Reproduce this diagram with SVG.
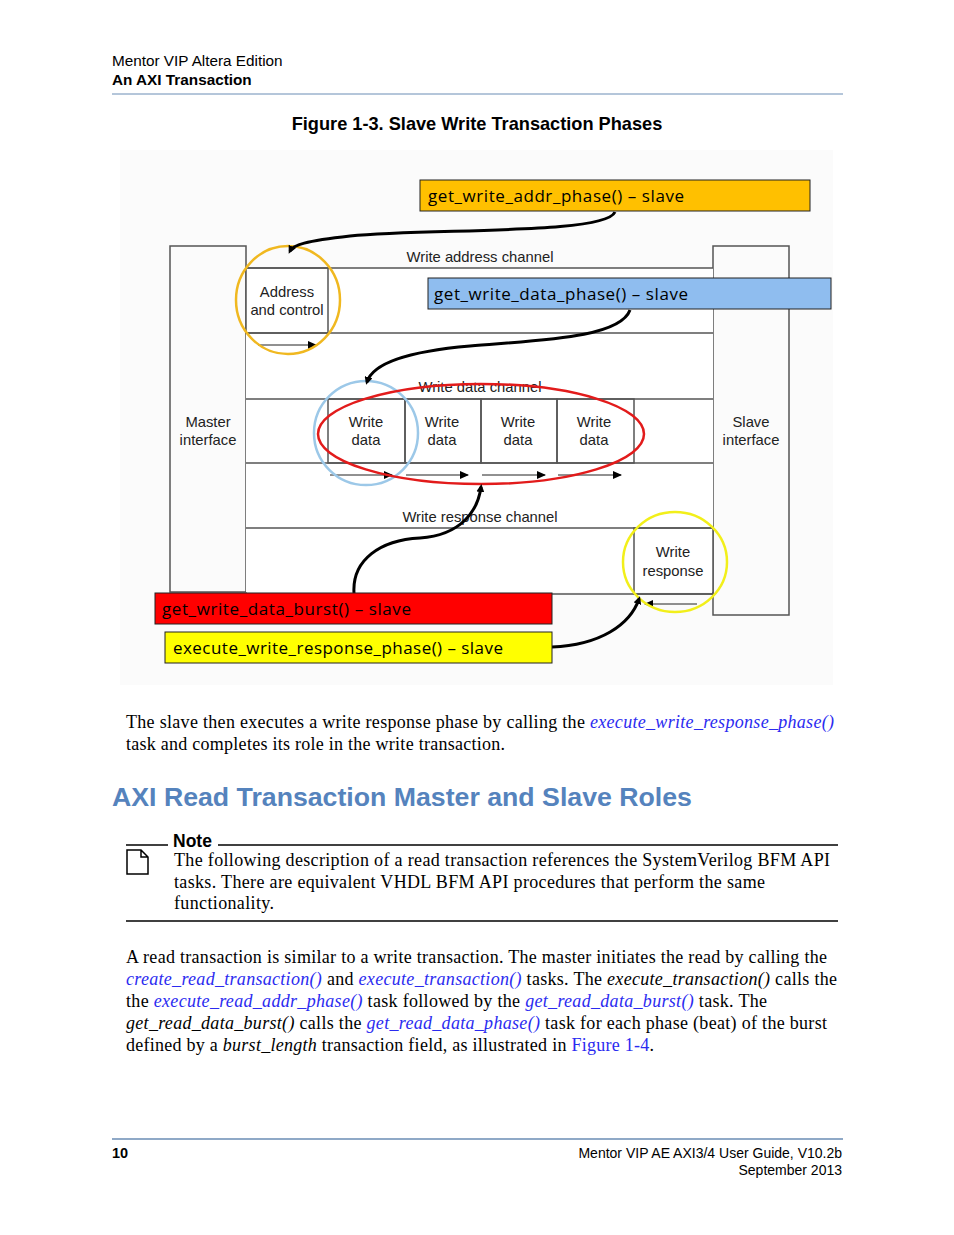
<svg xmlns="http://www.w3.org/2000/svg" width="954" height="1235" viewBox="0 0 954 1235">
<style>
.s{font-family:"Liberation Sans",Arial,sans-serif;fill:#000}
.d{font-family:"Liberation Sans",Arial,sans-serif;font-size:14.8px;fill:#222;text-anchor:middle}
.lab{font-family:"Open Sans","Liberation Sans",sans-serif;font-size:17px;fill:#000}
.r{font-family:"Liberation Serif","Times New Roman",serif;font-size:18px;fill:#000}
.l{fill:#2b2bf0;font-style:italic}
.ln{stroke:#555;stroke-width:1.5;fill:none}
.cv{stroke:#000;stroke-width:3;fill:none;marker-end:url(#ah)}
.sa{stroke:#222;stroke-width:1;fill:none;marker-end:url(#sa)}
</style>
<defs>
<marker id="ah" markerWidth="8" markerHeight="8" refX="5" refY="4" orient="auto" markerUnits="userSpaceOnUse"><path d="M0,0 L8,4 L0,8 z" fill="#000"/></marker>
<marker id="sa" markerWidth="9" markerHeight="8" refX="8" refY="4" orient="auto" markerUnits="userSpaceOnUse"><path d="M0,0 L9,4 L0,8 z" fill="#000"/></marker>
</defs>
<rect width="954" height="1235" fill="#fff"/>
<text class="s" x="112" y="66" font-size="15.3">Mentor VIP Altera Edition</text>
<text class="s" x="112" y="85" font-size="15.3" font-weight="bold">An AXI Transaction</text>
<line x1="112" y1="94" x2="843" y2="94" stroke="#6a8db5" stroke-width="1"/>
<text class="s" x="477" y="130" font-size="18.2" font-weight="bold" text-anchor="middle">Figure 1-3. Slave Write Transaction Phases</text>
<rect x="120" y="150" width="713" height="535" fill="#fbfbfb"/>
<g id="master"><rect x="170" y="246" width="76" height="346" class="ln" fill="#fff"/><text class="d" x="208" y="427">Master</text><text class="d" x="208" y="445">interface</text></g>
<g id="slave"><rect x="713" y="246" width="76" height="369" class="ln" fill="#fff"/><text class="d" x="751" y="427">Slave</text><text class="d" x="751" y="445">interface</text></g>
<g id="channels">
<rect x="246" y="268" width="467" height="324" fill="#fff" stroke="none"/>
<line x1="246" y1="268" x2="713" y2="268" class="ln"/>
<line x1="246" y1="333" x2="713" y2="333" class="ln"/>
<line x1="246" y1="399" x2="713" y2="399" class="ln"/>
<line x1="246" y1="463" x2="713" y2="463" class="ln"/>
<line x1="246" y1="528" x2="713" y2="528" class="ln"/>
<line x1="246" y1="594" x2="713" y2="594" class="ln"/>
<text class="d" x="480" y="262">Write address channel</text>
<text class="d" x="480" y="392">Write data channel</text>
<text class="d" x="480" y="522">Write response channel</text>
</g>
<g id="addr"><rect x="246" y="268" width="82" height="65" class="ln"/><text class="d" x="287" y="297">Address</text><text class="d" x="287" y="315">and control</text><line x1="258" y1="345" x2="316" y2="345" class="sa"/></g>
<g id="wdata">
<rect x="328" y="399" width="77" height="64" class="ln"/><rect x="405" y="399" width="76" height="64" class="ln"/><rect x="481" y="399" width="76" height="64" class="ln"/><rect x="557" y="399" width="77" height="64" class="ln"/>
<text class="d" x="366" y="427">Write</text><text class="d" x="366" y="445">data</text>
<text class="d" x="442" y="427">Write</text><text class="d" x="442" y="445">data</text>
<text class="d" x="518" y="427">Write</text><text class="d" x="518" y="445">data</text>
<text class="d" x="594" y="427">Write</text><text class="d" x="594" y="445">data</text>
<line x1="330" y1="475" x2="392" y2="475" class="sa"/><line x1="406" y1="475" x2="468" y2="475" class="sa"/><line x1="482" y1="475" x2="545" y2="475" class="sa"/><line x1="558" y1="475" x2="621" y2="475" class="sa"/>
</g>
<g id="wresp"><rect x="634" y="528" width="79" height="66" class="ln"/><text class="d" x="673" y="557">Write</text><text class="d" x="673" y="576">response</text><line x1="697" y1="604" x2="645" y2="604" class="sa"/></g>
<g id="highlights" fill="none" stroke-width="2.5">
<ellipse cx="288" cy="300" rx="52" ry="54" stroke="#f0b820"/>
<ellipse cx="366" cy="433" rx="52" ry="52" stroke="#9cc8e8"/>
<ellipse cx="481" cy="434" rx="163" ry="50" stroke="#e21b1b"/>
<ellipse cx="675" cy="562" rx="52" ry="50" stroke="#f2ef1a"/>
</g>
<g id="connectors">
<path class="cv" d="M615,212 C605,235 430,228 350,236 C305,241 293,245 290,251"/>
<path class="cv" d="M630,310 C620,338 540,340 470,346 C400,352 372,366 367,382"/>
<path class="cv" d="M354,593 C352,560 380,540 420,538 C462,535 478,510 481,487"/>
<path class="cv" d="M552,647 C600,645 630,625 639,599"/>
</g>
<g id="lbl-addr"><rect x="420" y="180" width="390" height="31" fill="#ffc000" stroke="#222"/><text class="lab" x="428" y="202" textLength="256">get_write_addr_phase() – slave</text></g>
<g id="lbl-data"><rect x="428" y="278" width="403" height="31" fill="#8fbdef" stroke="#222"/><text class="lab" x="434" y="300" textLength="254">get_write_data_phase() – slave</text></g>
<g id="lbl-burst"><rect x="155" y="593" width="397" height="31" fill="#ff0000" stroke="#222"/><text class="lab" x="162" y="615" textLength="249">get_write_data_burst() – slave</text></g>
<g id="lbl-resp"><rect x="165" y="632" width="387" height="31" fill="#ffff00" stroke="#222"/><text class="lab" x="173" y="654" textLength="330">execute_write_response_phase() – slave</text></g>
<text class="r" x="126" y="728" textLength="708">The slave then executes a write response phase by calling the <tspan class="l">execute_write_response_phase()</tspan></text>
<text class="r" x="126" y="750" textLength="379">task and completes its role in the write transaction.</text>
<text x="112" y="806" font-family="Liberation Sans,Arial,sans-serif" font-size="26.7" font-weight="bold" fill="#5583bd">AXI Read Transaction Master and Slave Roles</text>
<line x1="126" y1="845" x2="168" y2="845" stroke="#000" stroke-width="1.5"/>
<text class="s" x="173" y="847" font-size="17.5" font-weight="bold">Note</text>
<line x1="218" y1="845" x2="838" y2="845" stroke="#000" stroke-width="1.5"/>
<path d="M127,850 H141 L148,857 V874 H127 Z M141,850 V857 H148" fill="none" stroke="#000" stroke-width="1.5"/>
<text class="r" x="174" y="866" textLength="656">The following description of a read transaction references the SystemVerilog BFM API</text>
<text class="r" x="174" y="888" textLength="591">tasks. There are equivalent VHDL BFM API procedures that perform the same</text>
<text class="r" x="174" y="909" textLength="100">functionality.</text>
<line x1="126" y1="921" x2="838" y2="921" stroke="#000" stroke-width="1.5"/>
<text class="r" x="126" y="963" textLength="701">A read transaction is similar to a write transaction. The master initiates the read by calling the</text>
<text class="r" x="126" y="985" textLength="711"><tspan class="l">create_read_transaction()</tspan> and <tspan class="l">execute_transaction()</tspan> tasks. The <tspan font-style="italic">execute_transaction()</tspan> calls the</text>
<text class="r" x="126" y="1007" textLength="641">the <tspan class="l">execute_read_addr_phase()</tspan> task followed by the <tspan class="l">get_read_data_burst()</tspan> task. The</text>
<text class="r" x="126" y="1029" textLength="701"><tspan font-style="italic">get_read_data_burst()</tspan> calls the <tspan class="l">get_read_data_phase()</tspan> task for each phase (beat) of the burst</text>
<text class="r" x="126" y="1051" textLength="528">defined by a <tspan font-style="italic">burst_length</tspan> transaction field, as illustrated in <tspan fill="#2b2bf0">Figure 1-4</tspan>.</text>
<line x1="112" y1="1139" x2="843" y2="1139" stroke="#6a8db5" stroke-width="1.5"/>
<text class="s" x="112" y="1158" font-size="14.5" font-weight="bold">10</text>
<text class="s" x="842" y="1158" font-size="14" text-anchor="end">Mentor VIP AE AXI3/4 User Guide, V10.2b</text>
<text class="s" x="842" y="1175" font-size="14" text-anchor="end">September 2013</text>
</svg>
